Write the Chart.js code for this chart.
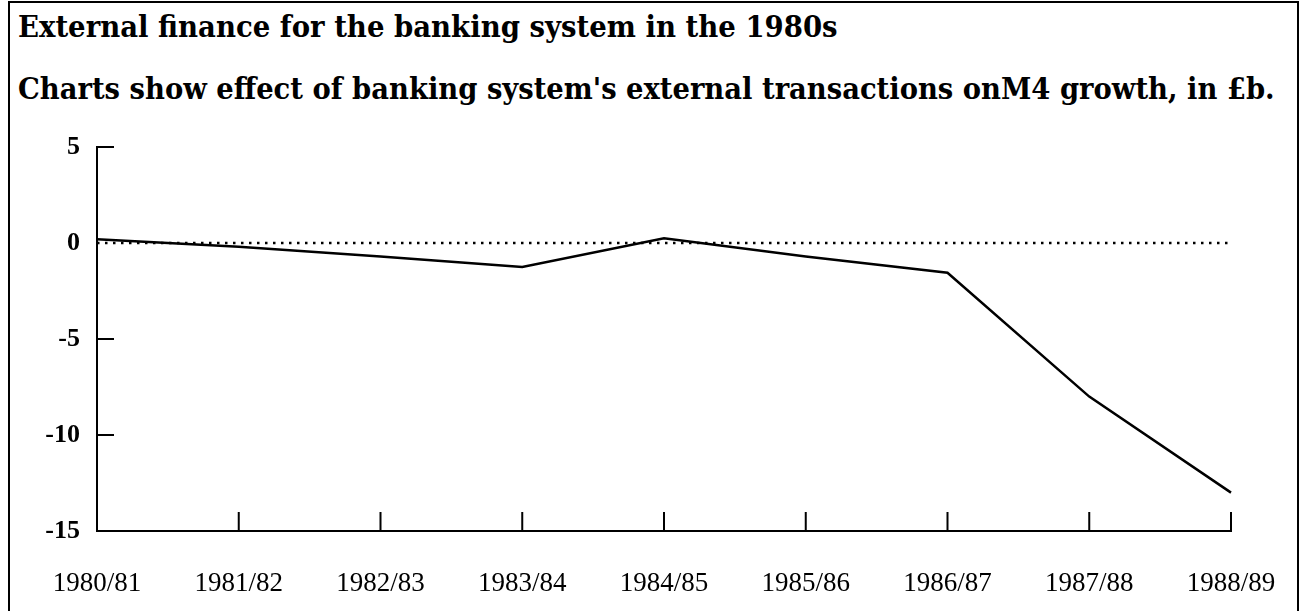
<!DOCTYPE html>
<html><head><meta charset="utf-8">
<script src="https://cdn.jsdelivr.net/npm/chart.js@4"></script>
<style>
html,body{margin:0;padding:0;background:#fff;}
#wrap{position:relative;width:1302px;height:611px;overflow:hidden;background:#fff;}
#frame{position:absolute;left:8px;top:1px;width:1291px;height:640px;border:2px solid #000;box-sizing:border-box;}
.txt{position:absolute;left:18px;font-family:'DejaVu Serif Condensed','DejaVu Serif',serif;font-weight:bold;white-space:nowrap;color:#000;line-height:1;}
#chart{position:absolute;left:0;top:0;}
</style></head>
<body>
<div id="wrap">
  <div id="frame"></div>
  <div id="title" class="txt">External finance for the banking system in the 1980s</div>
  <div id="subtitle" class="txt">Charts show effect of banking system's external transactions onM4 growth, in £b.</div>
  <canvas id="chart" width="1302" height="611"></canvas>
</div>
<script>
const categories = ['1980/81','1981/82','1982/83','1983/84','1984/85','1985/86','1986/87','1987/88','1988/89'];
const values = [0.2, -0.2, -0.7, -1.25, 0.25, -0.7, -1.55, -8, -13];
const yTicks = [5, 0, -5, -10, -15];
const innerTickValues = [5, -5, -10];

// fit heading text widths
function fit(id, target, baseline){
  const el = document.getElementById(id);
  const c = document.createElement('canvas').getContext('2d');
  c.font = "bold 100px 'DejaVu Serif Condensed', 'DejaVu Serif'";
  const w = c.measureText(el.textContent).width;
  const size = 100 * target / w;
  el.style.fontSize = size + 'px';
  el.style.top = (baseline - 0.845 * size) + 'px';
}
fit('title', 820, 37);
fit('subtitle', 1257, 99);

const decor = {
  id: 'decor',
  beforeDatasetsDraw(chart){
    const {ctx, chartArea, scales} = chart;
    const y0 = scales.y.getPixelForValue(0);
    ctx.save();
    ctx.strokeStyle = '#000';
    ctx.lineWidth = 2.5;
    ctx.setLineDash([2.5, 5.5]);
    ctx.beginPath();
    ctx.moveTo(chartArea.left, y0);
    ctx.lineTo(scales.x.getPixelForValue(categories.length - 1) - 3, y0);
    ctx.stroke();
    ctx.restore();
  },
  afterDraw(chart){
    const {ctx, chartArea, scales} = chart;
    ctx.save();
    ctx.strokeStyle = '#000';
    ctx.lineWidth = 2;
    ctx.beginPath();
    innerTickValues.forEach(v => {
      const py = scales.y.getPixelForValue(v);
      ctx.moveTo(chartArea.left, py);
      ctx.lineTo(chartArea.left + 17, py);
    });
    for (let i = 1; i < categories.length; i++) {
      const px = scales.x.getPixelForValue(i);
      ctx.moveTo(px, chartArea.bottom);
      ctx.lineTo(px, chartArea.bottom - 19);
    }
    ctx.stroke();
    ctx.restore();
  }
};

new Chart(document.getElementById('chart'), {
  type: 'line',
  data: {
    labels: categories,
    datasets: [{
      data: values,
      borderColor: '#000',
      borderWidth: 2.5,
      pointRadius: 0,
      tension: 0,
      fill: false
    }]
  },
  options: {
    responsive: false,
    animation: false,
    layout: { padding: { top: 147, right: 71, left: 0, bottom: 0 } },
    plugins: { legend: { display: false }, tooltip: { enabled: false } },
    scales: {
      x: {
        type: 'category',
        offset: false,
        grid: { display: true, drawOnChartArea: false, drawTicks: false, color: 'transparent' },
        border: { display: true, color: '#000', width: 2 },
        ticks: { color: '#000', padding: 37, maxRotation: 0, autoSkip: false,
                 font: { family: "'Liberation Serif', serif", size: 27 } },
        afterFit(s){ s.height = 80; s.paddingLeft = 0; s.paddingRight = 0; }
      },
      y: {
        min: -15, max: 5,
        grid: { display: true, drawOnChartArea: false, drawTicks: false, color: 'transparent' },
        border: { display: true, color: '#000', width: 2 },
        ticks: { color: '#000', padding: 17, stepSize: 5,
                 font: { family: "'Liberation Serif', serif", size: 26, weight: 'bold' } },
        afterBuildTicks(s){ s.ticks = yTicks.map(v => ({ value: v })); },
        afterFit(s){ s.width = 97; s.paddingTop = 0; s.paddingBottom = 0; }
      }
    }
  },
  plugins: [decor]
});
</script>
</body></html>
